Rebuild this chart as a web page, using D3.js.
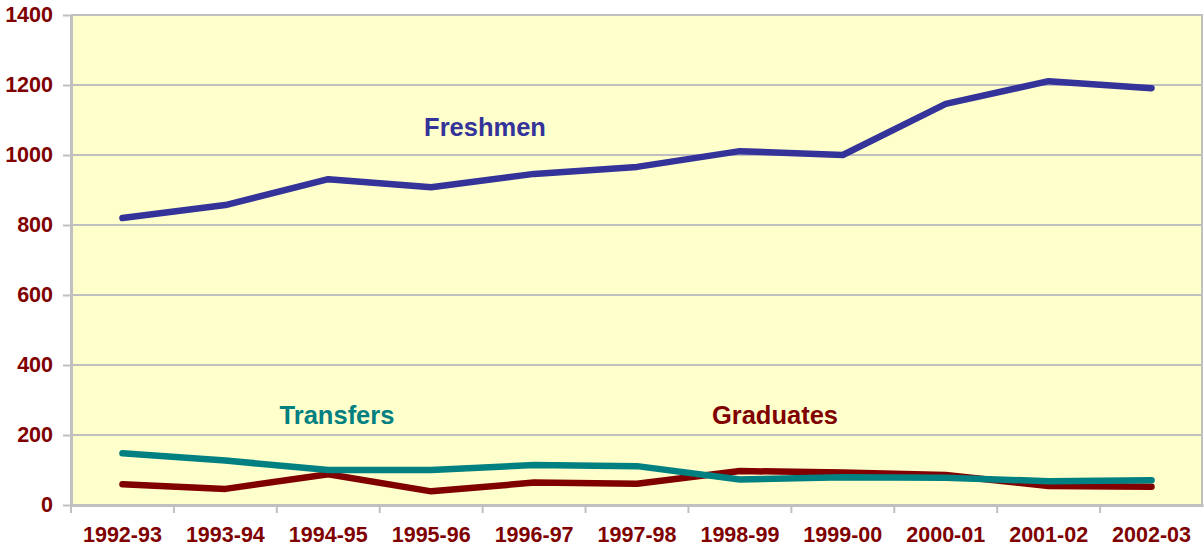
<!DOCTYPE html>
<html>
<head>
<meta charset="utf-8">
<script src="https://cdn.jsdelivr.net/npm/d3@7"></script>
<style>
  body { margin: 0; background: #fff; }
  svg { display: block; font-family: "Liberation Sans", Arial, sans-serif; }
</style>
</head>
<body>
<script>
// data
const years = ["1992-93", "1993-94", "1994-95", "1995-96", "1996-97", "1997-98",
               "1998-99", "1999-00", "2000-01", "2001-02", "2002-03"];
const freshmen  = [820, 857, 931, 908, 946, 966, 1011, 1000, 1146, 1211, 1191];
const transfers = [148, 127, 100, 100, 114, 111, 73, 79, 78, 68, 71];
const graduates = [59, 46, 88, 39, 64, 61, 97, 93, 86, 54, 52];
const yTicks = [0, 200, 400, 600, 800, 1000, 1200, 1400];

const width = 1204, height = 550;
const margin = {top: 15, right: 1, bottom: 45, left: 71};
const labelColor = "#800000";
const gridColor = "#c0c0c0";

const svg = d3.select("body")
	.append("svg")
	.attr("width", width)
	.attr("height", height);

const x = d3.scaleBand()
	.domain(years)
	.range([margin.left, width - margin.right])
	.padding(0);

const y = d3.scaleLinear()
	.domain([0, 1400])
	.range([height - margin.bottom, margin.top]);

// plot background
svg.append("rect")
	.attr("x", margin.left)
	.attr("y", margin.top)
	.attr("width", width - margin.right - margin.left)
	.attr("height", y(0) - margin.top)
	.attr("fill", "#ffffcc");

// horizontal grid
svg.append("g")
	.selectAll("line")
	.data(yTicks.filter(d => d > 0))
	.join("line")
	.attr("x1", margin.left)
	.attr("x2", width - margin.right)
	.attr("y1", d => y(d))
	.attr("y2", d => y(d))
	.attr("stroke", gridColor)
	.attr("stroke-width", 2);

// right border
svg.append("line")
	.attr("x1", width - margin.right - 1).attr("x2", width - margin.right - 1)
	.attr("y1", margin.top).attr("y2", y(0))
	.attr("stroke", gridColor)
	.attr("stroke-width", 2);

// y axis
const yAxis = svg.append("g")
	.attr("transform", `translate(${margin.left},0)`)
	.call(d3.axisLeft(y).tickValues(yTicks).tickFormat(d3.format("d"))
		.tickSize(8).tickSizeOuter(0).tickPadding(10));
yAxis.select(".domain").attr("stroke", gridColor).attr("stroke-width", 3);
yAxis.selectAll(".tick line").attr("stroke", gridColor).attr("stroke-width", 2);
yAxis.selectAll(".tick text")
	.attr("fill", labelColor)
	.attr("font-size", 21.5)
	.attr("font-weight", "bold")
	.attr("font-family", "'Liberation Sans', Arial, sans-serif");

// x axis: ticks between categories
const xAxis = svg.append("g")
	.attr("transform", `translate(0,${y(0)})`)
	.call(d3.axisBottom(x).tickSize(0).tickSizeOuter(0).tickPadding(22));
xAxis.select(".domain").attr("stroke", gridColor).attr("stroke-width", 3);
xAxis.selectAll(".tick text")
	.attr("fill", labelColor)
	.attr("font-size", 21.5)
	.attr("font-weight", "bold")
	.attr("font-family", "'Liberation Sans', Arial, sans-serif");
xAxis.append("g")
	.selectAll("line")
	.data(years)
	.join("line")
	.attr("x1", d => x(d))
	.attr("x2", d => x(d))
	.attr("y1", 0)
	.attr("y2", 8)
	.attr("stroke", gridColor)
	.attr("stroke-width", 2);

// lines
const line = d3.line()
	.x((d, i) => x(years[i]) + x.bandwidth() / 2)
	.y(d => y(d));

const series = [
	{name: "Freshmen", values: freshmen, color: "#333399", lx: 485, ly: 136},
	{name: "Graduates", values: graduates, color: "#800000", lx: 775, ly: 424},
	{name: "Transfers", values: transfers, color: "#008080", lx: 337, ly: 424}
];

svg.append("g")
	.selectAll("path")
	.data(series)
	.join("path")
	.attr("d", d => line(d.values))
	.attr("fill", "none")
	.attr("stroke", d => d.color)
	.attr("stroke-width", 6.5)
	.attr("stroke-linecap", "round")
	.attr("stroke-linejoin", "round");

svg.append("g")
	.selectAll("text")
	.data(series)
	.join("text")
	.attr("x", d => d.lx)
	.attr("y", d => d.ly)
	.attr("text-anchor", "middle")
	.attr("fill", d => d.color)
	.attr("font-size", 25.5)
	.attr("font-weight", "bold")
	.text(d => d.name);
</script>
</body>
</html>
